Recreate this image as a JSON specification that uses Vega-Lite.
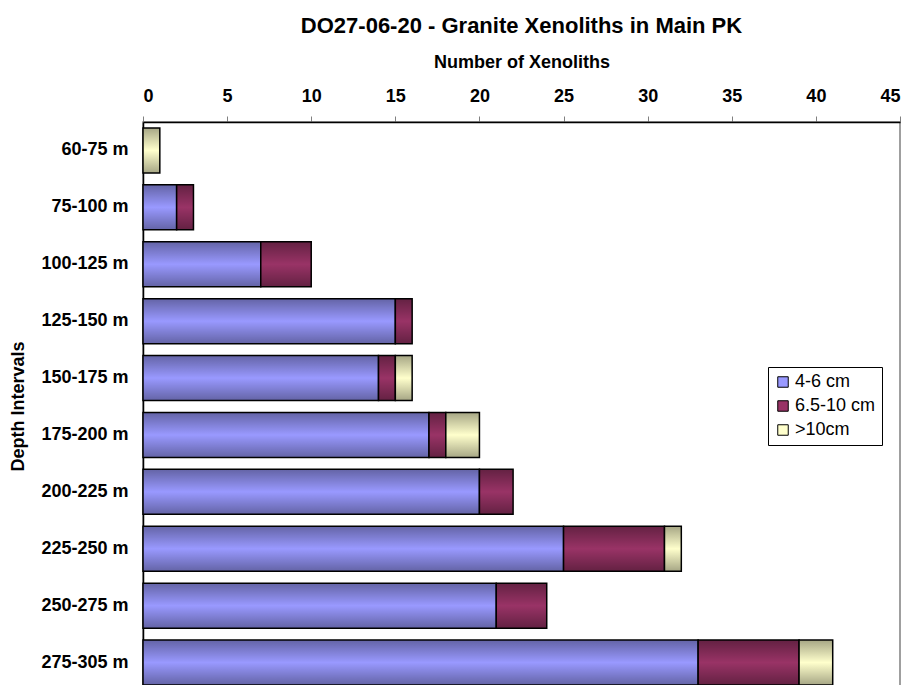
{
  "$schema": "https://vega.github.io/schema/vega-lite/v6.json",
  "width": 757,
  "height": 569,
  "autosize": {"type": "none"},
  "padding": {"left": 143, "top": 122, "right": 10, "bottom": 0},
  "background": "white",
  "config": {
    "font": "Liberation Sans",
    "view": {"stroke": "#808080", "strokeWidth": 1.5}
  },
  "title": {
    "text": "DO27-06-20 - Granite Xenoliths in Main PK",
    "font": "Liberation Sans",
    "fontSize": 22,
    "fontWeight": "bold",
    "color": "black",
    "anchor": "middle",
    "offset": 15
  },
  "data": {
    "values": [
      {"depth": "60-75 m", "size": "4-6 cm", "ord": 1, "count": 0},
      {"depth": "60-75 m", "size": "6.5-10 cm", "ord": 2, "count": 0},
      {"depth": "60-75 m", "size": ">10cm", "ord": 3, "count": 1},
      {"depth": "75-100 m", "size": "4-6 cm", "ord": 1, "count": 2},
      {"depth": "75-100 m", "size": "6.5-10 cm", "ord": 2, "count": 1},
      {"depth": "75-100 m", "size": ">10cm", "ord": 3, "count": 0},
      {"depth": "100-125 m", "size": "4-6 cm", "ord": 1, "count": 7},
      {"depth": "100-125 m", "size": "6.5-10 cm", "ord": 2, "count": 3},
      {"depth": "100-125 m", "size": ">10cm", "ord": 3, "count": 0},
      {"depth": "125-150 m", "size": "4-6 cm", "ord": 1, "count": 15},
      {"depth": "125-150 m", "size": "6.5-10 cm", "ord": 2, "count": 1},
      {"depth": "125-150 m", "size": ">10cm", "ord": 3, "count": 0},
      {"depth": "150-175 m", "size": "4-6 cm", "ord": 1, "count": 14},
      {"depth": "150-175 m", "size": "6.5-10 cm", "ord": 2, "count": 1},
      {"depth": "150-175 m", "size": ">10cm", "ord": 3, "count": 1},
      {"depth": "175-200 m", "size": "4-6 cm", "ord": 1, "count": 17},
      {"depth": "175-200 m", "size": "6.5-10 cm", "ord": 2, "count": 1},
      {"depth": "175-200 m", "size": ">10cm", "ord": 3, "count": 2},
      {"depth": "200-225 m", "size": "4-6 cm", "ord": 1, "count": 20},
      {"depth": "200-225 m", "size": "6.5-10 cm", "ord": 2, "count": 2},
      {"depth": "200-225 m", "size": ">10cm", "ord": 3, "count": 0},
      {"depth": "225-250 m", "size": "4-6 cm", "ord": 1, "count": 25},
      {"depth": "225-250 m", "size": "6.5-10 cm", "ord": 2, "count": 6},
      {"depth": "225-250 m", "size": ">10cm", "ord": 3, "count": 1},
      {"depth": "250-275 m", "size": "4-6 cm", "ord": 1, "count": 21},
      {"depth": "250-275 m", "size": "6.5-10 cm", "ord": 2, "count": 3},
      {"depth": "250-275 m", "size": ">10cm", "ord": 3, "count": 0},
      {"depth": "275-305 m", "size": "4-6 cm", "ord": 1, "count": 33},
      {"depth": "275-305 m", "size": "6.5-10 cm", "ord": 2, "count": 6},
      {"depth": "275-305 m", "size": ">10cm", "ord": 3, "count": 2}
    ]
  },
  "transform": [{"filter": "datum.count > 0"}],
  "encoding": {
    "y": {
      "field": "depth",
      "type": "nominal",
      "sort": ["60-75 m", "75-100 m", "100-125 m", "125-150 m", "150-175 m", "175-200 m", "200-225 m", "225-250 m", "250-275 m", "275-305 m"],
      "scale": {"paddingInner": 0.21, "paddingOuter": 0.105},
      "axis": {
        "title": "Depth Intervals",
        "titleFont": "Liberation Sans",
        "titleFontSize": 18,
        "titleFontWeight": "bold",
        "titleColor": "black",
        "titleAngle": -90,
        "titleX": -125,
        "titleY": 284,
        "titleAlign": "center",
        "titleBaseline": "middle",
        "labelFont": "Liberation Sans",
        "labelFontSize": 18,
        "labelFontWeight": "bold",
        "labelColor": "black",
        "labelPadding": 15,
        "ticks": false,
        "domainColor": "black",
        "domainWidth": 1.5
      }
    },
    "x": {
      "field": "count",
      "type": "quantitative",
      "stack": "zero",
      "scale": {"domain": [0, 45], "nice": false},
      "axis": {
        "orient": "top",
        "values": [0, 5, 10, 15, 20, 25, 30, 35, 40, 45],
        "grid": false,
        "title": "Number of Xenoliths",
        "titleFont": "Liberation Sans",
        "titleFontSize": 18,
        "titleFontWeight": "bold",
        "titleColor": "black",
        "titleY": -60,
        "titleBaseline": "middle",
        "labelFont": "Liberation Sans",
        "labelFontSize": 18,
        "labelFontWeight": "bold",
        "labelColor": "black",
        "labelPadding": 11,
        "tickSize": 6,
        "tickColor": "#808080",
        "domainColor": "black",
        "domainWidth": 1.5
      }
    },
    "order": {"field": "ord", "type": "quantitative"}
  },
  "layer": [
    {
      "mark": {"type": "bar", "stroke": "black", "strokeWidth": 1.5},
      "encoding": {
        "color": {
          "field": "size",
          "type": "nominal",
          "sort": ["4-6 cm", "6.5-10 cm", ">10cm"],
          "scale": {"domain": ["4-6 cm", "6.5-10 cm", ">10cm"], "range": ["#9999FF", "#993366", "#FFFFCC"]},
          "legend": {
            "title": null,
            "orient": "none",
            "legendX": 625,
            "legendY": 245,
            "symbolType": "square",
            "symbolSize": 110,
            "symbolStrokeColor": "black",
            "symbolStrokeWidth": 1,
            "symbolOpacity": 1,
            "labelFont": "Liberation Sans",
            "labelFontSize": 18,
            "labelColor": "black",
            "labelOffset": 3,
            "rowPadding": 6,
            "padding": 6,
            "strokeColor": "black",
            "fillColor": "white"
          }
        }
      }
    },
    {
      "mark": {
        "type": "bar",
        "strokeWidth": 0,
        "color": {
          "gradient": "linear", "x1": 0, "y1": 0, "x2": 0, "y2": 1,
          "stops": [
            {"offset": 0, "color": "rgba(0,0,0,0.35)"},
            {"offset": 0.5, "color": "rgba(0,0,0,0)"},
            {"offset": 1, "color": "rgba(0,0,0,0.35)"}
          ]
        }
      },
      "encoding": {"detail": {"field": "size", "type": "nominal"}}
    }
  ]
}
